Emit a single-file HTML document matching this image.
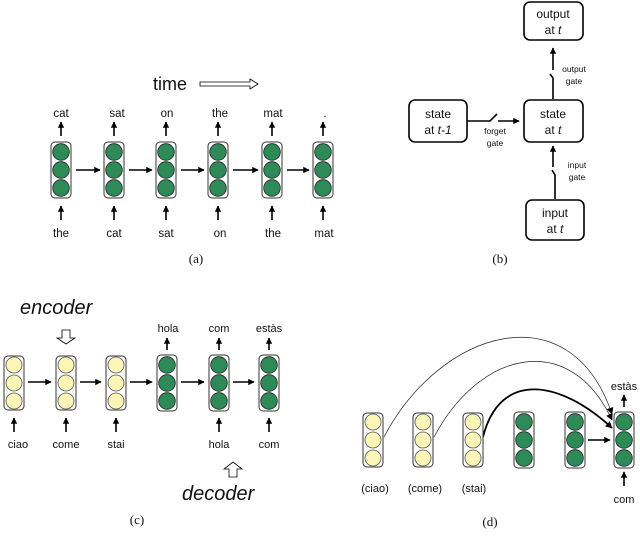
<!DOCTYPE html>
<html><head><meta charset="utf-8"><style>
html,body{margin:0;padding:0;background:#fff}
svg{display:block}
text{font-family:"Liberation Sans",sans-serif;fill:#111}
.s{font-family:"Liberation Serif",serif;font-size:13px}
</style></head><body>
<svg width="640" height="556" viewBox="0 0 640 556" xmlns="http://www.w3.org/2000/svg">
<defs>
<marker id="ah" viewBox="0 0 10 10" refX="9" refY="5" markerWidth="4" markerHeight="4" orient="auto"><path d="M0,0L10,5L0,10z" fill="#000"/></marker>
<marker id="ahu" viewBox="0 0 10 10" refX="9" refY="5" markerWidth="7" markerHeight="7" markerUnits="userSpaceOnUse" orient="auto"><path d="M0,0L10,5L0,10z" fill="#000"/></marker>
<g id="gc"><rect x="-10" y="0" width="20" height="56" rx="4" fill="#fff" stroke="#333" stroke-width="1"/><circle cx="0" cy="10" r="8.3" fill="#2e8b57" stroke="#222" stroke-width="0.8"/><circle cx="0" cy="28" r="8.3" fill="#2e8b57" stroke="#222" stroke-width="0.8"/><circle cx="0" cy="46" r="8.3" fill="#2e8b57" stroke="#222" stroke-width="0.8"/></g>
<g id="yc"><rect x="-10" y="0" width="20" height="54" rx="4" fill="#fff" stroke="#333" stroke-width="1"/><circle cx="0" cy="9" r="8" fill="#fbf6b8" stroke="#555" stroke-width="0.8"/><circle cx="0" cy="27" r="8" fill="#fbf6b8" stroke="#555" stroke-width="0.8"/><circle cx="0" cy="45" r="8" fill="#fbf6b8" stroke="#555" stroke-width="0.8"/></g>
</defs>

<!-- (a) -->
<text x="153" y="90" font-size="18">time</text>
<path d="M200,82H250V79L258,84L250,89V86H200z" fill="#fff" stroke="#000" stroke-width="0.8"/>
<g stroke="#000" stroke-width="1.6" marker-end="url(#ah)">
<line x1="61" y1="136" x2="61" y2="122"/><line x1="114" y1="136" x2="114" y2="122"/><line x1="166" y1="136" x2="166" y2="122"/><line x1="218" y1="136" x2="218" y2="122"/><line x1="272" y1="136" x2="272" y2="122"/><line x1="323" y1="136" x2="323" y2="122"/>
<line x1="61" y1="220" x2="61" y2="206"/><line x1="114" y1="220" x2="114" y2="206"/><line x1="166" y1="220" x2="166" y2="206"/><line x1="218" y1="220" x2="218" y2="206"/><line x1="272" y1="220" x2="272" y2="206"/><line x1="323" y1="220" x2="323" y2="206"/>
<line x1="76" y1="170" x2="100" y2="170"/><line x1="129" y1="170" x2="152" y2="170"/><line x1="181" y1="170" x2="204" y2="170"/><line x1="233" y1="170" x2="258" y2="170"/><line x1="287" y1="170" x2="309" y2="170"/>
</g>
<use href="#gc" x="61" y="142"/><use href="#gc" x="114" y="142"/><use href="#gc" x="166" y="142"/><use href="#gc" x="218" y="142"/><use href="#gc" x="272" y="142"/><use href="#gc" x="323" y="142"/>
<g font-size="11.5" text-anchor="middle">
<text x="61" y="117">cat</text><text x="117" y="117">sat</text><text x="167" y="117">on</text><text x="220" y="117">the</text><text x="273" y="117">mat</text><text x="325" y="117">.</text>
<text x="61" y="237">the</text><text x="114" y="237">cat</text><text x="166" y="237">sat</text><text x="220" y="237">on</text><text x="273" y="237">the</text><text x="324" y="237">mat</text>
</g>
<text class="s" x="196" y="263" text-anchor="middle">(a)</text>

<!-- (b) -->
<g fill="#fff" stroke="#000" stroke-width="1.6">
<rect x="524" y="2" width="59" height="38" rx="6"/>
<rect x="524" y="100" width="59" height="42" rx="6"/>
<rect x="409" y="100" width="58" height="42" rx="6"/>
<rect x="526" y="200" width="58" height="40" rx="6"/>
</g>
<g font-size="12" text-anchor="middle">
<text x="553" y="18">output</text><text x="553" y="34">at <tspan font-style="italic">t</tspan></text>
<text x="553" y="118">state</text><text x="553" y="134">at <tspan font-style="italic">t</tspan></text>
<text x="438" y="118">state</text><text x="438" y="134">at <tspan font-style="italic">t-1</tspan></text>
<text x="555" y="217">input</text><text x="555" y="233">at <tspan font-style="italic">t</tspan></text>
</g>
<g stroke="#000" stroke-width="1.6" fill="none">
<path d="M553,99V78L550,74"/><line x1="553" y1="70" x2="553" y2="48" marker-end="url(#ah)"/>
<path d="M555,199V175L552,170"/><line x1="553" y1="167" x2="553" y2="146" marker-end="url(#ah)"/>
<path d="M467,121H490L497,114"/><line x1="498" y1="121" x2="519" y2="121" marker-end="url(#ah)"/>
</g>
<g font-size="8.5" text-anchor="middle">
<text x="574" y="72">output</text><text x="574" y="84">gate</text>
<text x="577" y="168">input</text><text x="577" y="180">gate</text>
<text x="495" y="134">forget</text><text x="495" y="146">gate</text>
</g>
<text class="s" x="500" y="263" text-anchor="middle">(b)</text>

<!-- (c) -->
<text x="20" y="314" font-size="20" font-style="italic">encoder</text>
<path d="M62,330H70V338H75L66,344L57,338H62z" fill="#fff" stroke="#000" stroke-width="0.8"/>
<text x="182" y="500" font-size="20" font-style="italic">decoder</text>
<path d="M229,477H237V469H242L233,462L224,469H229z" fill="#fff" stroke="#000" stroke-width="0.8"/>
<g stroke="#000" stroke-width="1.6" marker-end="url(#ah)">
<line x1="167" y1="350" x2="167" y2="338"/><line x1="219" y1="350" x2="219" y2="338"/><line x1="269" y1="350" x2="269" y2="338"/>
<line x1="14" y1="432" x2="14" y2="418"/><line x1="66" y1="432" x2="66" y2="418"/><line x1="116" y1="432" x2="116" y2="418"/><line x1="219" y1="432" x2="219" y2="418"/><line x1="269" y1="432" x2="269" y2="418"/>
<line x1="28" y1="382" x2="51" y2="382"/><line x1="80" y1="382" x2="101" y2="382"/><line x1="130" y1="382" x2="152" y2="382"/><line x1="181" y1="382" x2="204" y2="382"/><line x1="233" y1="382" x2="254" y2="382"/>
</g>
<use href="#yc" x="14" y="356"/><use href="#yc" x="66" y="356"/><use href="#yc" x="116" y="356"/>
<use href="#gc" x="167" y="355"/><use href="#gc" x="219" y="355"/><use href="#gc" x="269" y="355"/>
<g font-size="11" text-anchor="middle">
<text x="168" y="332">hola</text><text x="219" y="332">com</text><text x="269" y="332">estàs</text>
<text x="18" y="448">ciao</text><text x="66" y="448">come</text><text x="116" y="448">stai</text><text x="219" y="448">hola</text><text x="269" y="448">com</text>
</g>
<text class="s" x="137" y="524" text-anchor="middle">(c)</text>

<!-- (d) -->
<g fill="none" stroke="#222">
<path d="M384,437C440,330 570,290 612,414" stroke-width="0.7" marker-end="url(#ahu)"/>
<path d="M434,437C480,350 570,330 612,420" stroke-width="0.7" marker-end="url(#ahu)"/>
<path d="M483,437C500,370 560,380 612,428" stroke-width="1.8" stroke="#000" marker-end="url(#ahu)"/>
</g>
<g stroke="#000" stroke-width="1.6" marker-end="url(#ah)">
<line x1="588" y1="440" x2="610" y2="440"/>
<line x1="624" y1="407" x2="624" y2="395"/>
<line x1="624" y1="486" x2="624" y2="472"/>
</g>
<use href="#yc" x="373" y="413"/><use href="#yc" x="423" y="413"/><use href="#yc" x="473" y="413"/>
<use href="#gc" x="524" y="412"/><use href="#gc" x="575" y="412"/><use href="#gc" x="624" y="412"/>
<g font-size="11" text-anchor="middle">
<text x="375" y="492">(ciao)</text><text x="425" y="492">(come)</text><text x="474" y="492">(stai)</text>
<text x="624" y="390">estàs</text><text x="624" y="503">com</text>
</g>
<text class="s" x="490" y="526" text-anchor="middle">(d)</text>
</svg>
</body></html>
